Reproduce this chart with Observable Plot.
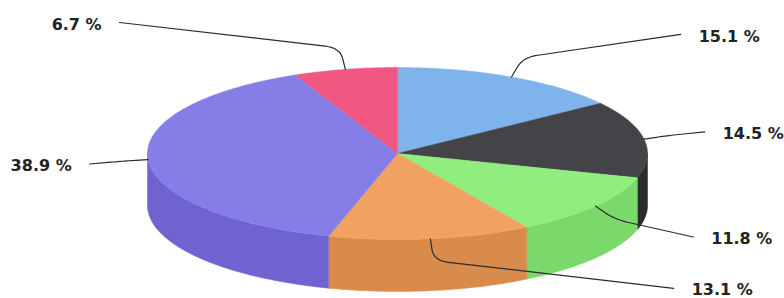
<!DOCTYPE html>
<html>
<head>
<meta charset="utf-8">
<script src="https://cdn.jsdelivr.net/npm/d3@7"></script>
<script src="https://cdn.jsdelivr.net/npm/@observablehq/plot@0.6"></script>
<style>
  html, body { margin: 0; padding: 0; background: #fff; }
  #chart svg { display: block; }
</style>
</head>
<body>
<div id="chart"></div>
<script>
// ---- data ----
const values = [15.1, 14.5, 11.8, 13.1, 38.9, 6.7];
const topColors = ["#7eb4eb", "#434348", "#90ee7e", "#f1a262", "#857ee6", "#ef5682"];
const sideColors = ["#6a9fd6", "#2a2a2f", "#7ad96a", "#d98b4b", "#6e63cf", "#d6446c"];

// ---- geometry ----
const W = 784, H = 298;
const cx = 397, cy = 153, rx = 250, ry = 86, depth = 52;
const px = t => cx + rx * Math.sin(t);
const py = t => cy - ry * Math.cos(t);
const total = d3.sum(values);
const slices = [];
let acc = 0;
values.forEach((v, i) => {
  const a0 = acc / total * 2 * Math.PI;
  acc += v;
  const a1 = acc / total * 2 * Math.PI;
  slices.push({i, v, a0, a1, mid: (a0 + a1) / 2});
});

const arcPts = (s, e) => {
  const n = Math.max(2, Math.ceil((e - s) / 0.01));
  return d3.range(n + 1).map(k => s + (e - s) * k / n);
};

// side walls (front half only: angles PI/2 .. 3PI/2)
const sideData = [];
slices.forEach(s => {
  const a = Math.max(s.a0, Math.PI / 2), b = Math.min(s.a1, 3 * Math.PI / 2);
  if (b <= a) return;
  const ts = arcPts(a, b);
  const pts = ts.map(t => [px(t), py(t)]).concat(ts.slice().reverse().map(t => [px(t), py(t) + depth]));
  pts.forEach(p => sideData.push({id: "s" + s.i, x: p[0], y: p[1], color: sideColors[s.i]}));
});

// top faces
const topData = [];
slices.forEach(s => {
  const pts = [[cx, cy]].concat(arcPts(s.a0, s.a1).map(t => [px(t), py(t)]));
  pts.forEach(p => topData.push({id: "t" + s.i, x: p[0], y: p[1], color: topColors[s.i]}));
});

// labels + connectors
const connData = [];
const labelData = [];
slices.forEach(s => {
  const sn = Math.sin(s.mid), cs = Math.cos(s.mid);
  const right = sn >= 0;
  const E = [px(s.mid), py(s.mid)];
  const C = [E[0] + 25 * sn, E[1] - 22 * cs];
  const ly = cy + 1 - 135 * cs;
  const dy = ly - cy;
  const off = 308 - 31 * (dy / 133) ** 2;
  const L = [right ? cx + off : cx - off, ly];
  const r = 15;
  const unit = (p, q) => { const dx = q[0] - p[0], dyy = q[1] - p[1]; const d = Math.hypot(dx, dyy) || 1; return [dx / d, dyy / d, d]; };
  const u1 = unit(C, L), u2 = unit(C, E);
  const r1 = Math.min(r, u1[2] / 2), r2 = Math.min(r, u2[2] / 2);
  const P1 = [C[0] + u1[0] * r1, C[1] + u1[1] * r1];
  const P2 = [C[0] + u2[0] * r2, C[1] + u2[1] * r2];
  const pts = [L];
  d3.range(13).forEach(k => {
    const t = k / 12;
    pts.push([
      (1 - t) ** 2 * P1[0] + 2 * (1 - t) * t * C[0] + t * t * P2[0],
      (1 - t) ** 2 * P1[1] + 2 * (1 - t) * t * C[1] + t * t * P2[1]
    ]);
  });
  pts.push(E);
  pts.forEach(p => connData.push({id: "c" + s.i, x: p[0], y: p[1]}));
  labelData.push({x: right ? L[0] + 18 : L[0] - 18, y: ly + 2, text: `${s.v} %`, anchor: right ? "start" : "end"});
});

const chart = Plot.plot({
  width: W,
  height: H,
  margin: 0,
  x: {domain: [0, W], range: [0, W], axis: null},
  y: {domain: [0, H], range: [0, H], axis: null},
  style: {background: "#fff"},
  marks: [
    Plot.line(sideData, {x: "x", y: "y", z: "id", fill: d => d.color, stroke: d => d.color, strokeWidth: 0.5, curve: "linear-closed"}),
    Plot.line(topData, {x: "x", y: "y", z: "id", fill: d => d.color, stroke: d => d.color, strokeWidth: 0.5, curve: "linear-closed"}),
    Plot.line(connData, {x: "x", y: "y", z: "id", stroke: "#2b2b2b", strokeWidth: 1.2, curve: "linear"}),
    Plot.text(labelData.filter(d => d.anchor === "start"), {x: "x", y: "y", text: "text", textAnchor: "start", fontWeight: "bold", fontSize: 16, fontFamily: "DejaVu Sans", fill: "#222", lineAnchor: "middle"}),
    Plot.text(labelData.filter(d => d.anchor === "end"), {x: "x", y: "y", text: "text", textAnchor: "end", fontWeight: "bold", fontSize: 16, fontFamily: "DejaVu Sans", fill: "#222", lineAnchor: "middle"})
  ]
});
document.getElementById("chart").appendChild(chart);
</script>
</body>
</html>
